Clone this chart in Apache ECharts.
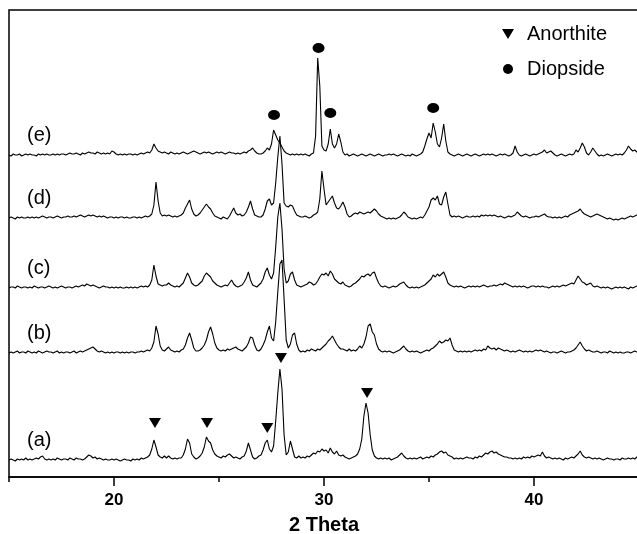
<!DOCTYPE html>
<html><head><meta charset="utf-8">
<script src="https://cdn.jsdelivr.net/npm/echarts@6/dist/echarts.min.js"></script>
<style>html,body{margin:0;padding:0;background:#fff}#c{width:637px;height:534px}</style>
</head><body><div id="c"></div>
<script>
// 2-theta scan grid
const thetaStart = 15, thetaStep = 0.1;
const xTickValues = [20, 30, 40];
const xMinorTickValues = [15, 25, 35, 45];
const traceNames = ['(a)', '(b)', '(c)', '(d)', '(e)'];
const traceOffsets = [16, 123, 188, 258, 321];

// intensities (a.u.) above each trace's own baseline, 15.0 .. 45.0 step 0.1
const traceA = [
1,2,1,0,2,1,2,1,3,1,
2,1,2,3,2,4,5,2,1,2,
1,2,1,3,2,1,2,2,1,3,
2,1,3,2,2,1,2,4,6,5,
3,4,2,3,2,1,2,1,1,2,
1,2,1,0,1,2,1,1,0,2,
1,2,1,3,2,3,4,6,12,21,
14,6,4,3,5,3,5,3,2,3,
2,3,3,6,12,22,18,7,4,2,
3,5,8,14,24,20,18,11,7,5,
4,3,5,4,6,7,5,3,4,3,
2,4,5,10,18,11,4,2,3,5,
6,11,18,21,12,9,15,40,68,92,
72,26,6,9,20,12,4,3,5,3,
4,3,5,4,6,8,7,10,9,12,
10,11,8,13,9,7,10,6,5,6,
4,3,2,3,4,5,7,12,22,45,
58,48,26,11,5,3,2,3,2,3,
2,3,1,2,3,4,6,8,5,3,
2,3,2,3,2,3,4,2,3,4,
3,5,4,6,7,9,10,8,9,6,
5,4,2,3,2,3,2,3,4,3,
3,2,4,3,5,4,6,8,7,9,
10,8,9,7,6,5,4,4,3,3,
2,3,2,3,2,4,3,4,3,5,
4,5,6,5,9,5,3,4,3,2,
3,2,3,2,1,3,2,3,4,3,
5,7,10,6,4,3,4,3,2,3,
2,3,2,1,2,3,2,2,1,2,
2,1,3,2,2,3,2,3,2,4,
3];
const traceB = [
1,2,1,2,3,1,2,2,1,3,
2,1,2,1,3,2,1,2,3,2,
2,1,2,3,1,2,1,2,2,1,
2,3,1,2,3,2,3,4,5,6,
7,5,3,2,3,2,1,2,1,2,
1,2,2,1,2,1,2,1,2,2,
1,2,2,3,2,3,4,3,6,12,
28,20,8,4,3,5,7,4,3,2,
3,2,4,5,9,16,21,14,6,3,
3,4,6,9,14,22,27,20,11,6,
4,3,4,3,5,4,5,6,7,5,
4,3,5,7,11,17,16,9,4,3,
5,9,14,22,28,16,13,32,62,90,
94,55,14,6,10,19,21,10,4,2,
3,2,4,3,5,4,3,5,4,6,
8,10,13,15,18,14,10,7,5,5,
4,3,5,3,4,3,5,8,6,10,
17,28,30,22,19,10,5,3,2,3,
2,3,2,1,2,3,4,6,8,5,
3,2,3,2,3,2,1,2,3,4,
3,5,6,8,10,13,11,12,14,13,
16,9,4,3,2,3,2,3,2,3,
2,3,4,3,4,3,5,4,8,6,
5,6,4,6,5,4,3,4,3,2,
3,2,3,4,3,2,3,2,3,2,
3,4,3,4,3,2,3,2,1,2,
2,1,2,3,2,1,2,2,3,4,
6,9,12,8,5,3,4,3,2,2,
3,2,1,2,2,1,3,2,1,2,
1,2,1,1,2,2,1,2,3,2,
2];
const traceC = [
1,2,2,1,3,2,1,2,2,1,
2,1,3,2,1,2,2,1,2,3,
2,1,2,1,2,3,2,1,2,2,
1,2,3,2,3,4,3,5,4,3,
4,3,2,1,2,3,2,2,1,2,
1,2,1,2,1,1,2,1,2,1,
2,1,2,3,2,3,2,4,9,24,
13,5,4,3,4,4,6,4,3,2,
3,2,4,6,11,16,12,6,4,3,
4,6,8,13,16,14,12,8,6,4,
3,2,3,4,3,6,9,5,3,2,
3,4,7,11,17,9,4,3,2,4,
6,10,17,21,14,10,16,42,72,86,
60,20,6,8,15,17,9,4,3,2,
3,4,5,7,6,4,5,8,12,15,
14,16,13,18,15,10,8,6,5,7,
4,3,2,3,5,6,8,10,13,12,
14,15,13,16,17,11,6,3,2,3,
2,1,2,3,2,3,5,6,7,4,
2,1,2,1,2,1,2,3,4,6,
8,10,14,12,15,13,15,17,12,6,
4,3,2,3,2,3,2,1,2,3,
2,3,2,3,2,3,4,3,2,3,
3,4,3,4,5,4,6,5,4,3,
2,3,2,3,2,3,2,1,2,3,
3,2,3,2,3,2,2,1,2,3,
2,3,2,3,4,3,4,5,6,5,
9,13,10,7,6,4,5,6,3,2,
3,2,1,2,1,2,1,0,1,2,
1,2,1,2,1,0,2,1,2,3,
3];
const traceD = [
1,2,1,0,2,1,2,1,1,2,
1,2,1,2,1,2,3,2,1,2,
2,1,2,3,2,1,2,2,3,2,
2,3,2,3,4,3,2,3,4,3,
4,3,2,3,2,3,2,1,2,2,
1,2,1,2,2,1,2,1,1,2,
2,1,2,1,2,3,2,3,5,14,
37,18,6,3,4,3,4,3,2,3,
2,3,4,6,11,15,19,10,5,3,
4,6,9,12,15,12,10,6,3,2,
1,0,2,1,0,3,7,11,6,4,
5,3,4,7,12,18,10,4,3,2,
2,4,10,18,20,14,16,36,62,83,
55,16,13,12,14,13,8,4,3,2,
2,3,2,1,2,4,5,7,20,48,
30,14,17,20,23,16,11,10,13,17,
12,5,2,3,5,6,5,7,6,5,
6,7,6,8,10,8,5,3,2,1,
0,1,0,1,0,1,2,4,7,5,
2,1,0,1,0,1,2,1,4,8,
12,19,21,19,23,15,14,22,27,15,
4,2,3,2,3,2,1,2,3,2,
2,3,2,3,2,4,3,4,3,4,
3,4,3,2,3,2,1,2,3,2,
3,4,7,5,3,2,3,2,1,2,
2,3,2,3,4,5,3,2,2,1,
2,1,2,1,2,3,2,4,5,6,
7,8,10,7,5,4,3,2,3,4,
5,4,3,2,1,0,1,0,-1,0,
-1,0,1,0,1,2,3,2,3,4,
4];
const traceE = [
1,0,2,1,1,2,0,1,2,1,
2,1,1,0,2,1,2,1,2,1,
1,2,1,2,1,2,2,1,2,3,
2,2,3,2,1,3,2,3,4,3,
3,2,4,3,2,3,2,3,2,5,
4,2,1,2,1,2,1,2,2,1,
2,1,2,3,2,3,4,3,6,12,
8,5,4,3,4,3,2,4,3,2,
3,2,3,4,3,2,3,4,5,4,
3,2,3,4,3,4,3,2,3,4,
3,4,3,2,3,4,3,3,2,3,
2,3,4,3,5,6,8,5,3,2,
2,3,5,8,6,12,26,21,16,13,
9,5,3,2,1,2,1,2,1,2,
1,2,1,0,2,3,20,98,70,10,
6,5,12,27,12,8,12,22,14,4,
1,2,0,1,2,1,0,1,2,1,
0,1,2,1,0,1,2,1,0,1,
1,2,1,2,1,0,1,2,1,0,
1,0,2,1,0,1,2,4,10,17,
23,18,33,24,12,9,18,32,15,4,
2,1,0,1,2,1,0,1,2,1,
0,1,2,1,0,1,2,1,2,1,
2,1,0,1,2,1,2,1,0,1,
3,10,4,1,0,1,2,1,0,1,
2,1,2,3,4,6,3,4,5,3,
1,0,1,2,1,0,1,2,1,2,
6,4,8,13,9,3,1,4,8,5,
2,0,1,0,1,2,1,0,1,2,
1,2,1,3,6,10,7,5,6,4,
3];
const traces = [traceA, traceB, traceC, traceD, traceE];

// phase markers: [2theta, height on stacked scale]
const anorthiteMarks = [[21.95, 54], [24.43, 54], [27.3, 49], [27.95, 119], [32.05, 84]];
const diopsideMarks = [[27.62, 362], [29.74, 429], [30.3, 364], [35.2, 369]];

const FONT = 'Liberation Sans, Arial, Helvetica, sans-serif';
const triPath = 'path://M0,0L12,0L6,10Z';

const lineSeries = traces.map((t, k) => ({
  type: 'line', name: traceNames[k], xAxisIndex: 0, yAxisIndex: 0,
  data: t.map((v, i) => [+(thetaStart + i * thetaStep).toFixed(1), v + traceOffsets[k]]),
  showSymbol: false, symbol: 'none', silent: true,
  lineStyle: { color: '#000', width: 1.1 }, itemStyle: { color: '#000' }
}));

const chart = echarts.init(document.getElementById('c'), null, { renderer: 'canvas' });
chart.setOption({
  animation: false,
  backgroundColor: '#fff',
  grid: { left: 9, top: 10, width: 630, height: 467, outerBoundsMode: 'none', containLabel: false,
    show: true, borderColor: '#000', borderWidth: 1.5, backgroundColor: 'transparent' },
  legend: {
    orient: 'vertical', left: 497, top: 19, itemWidth: 12, itemHeight: 10, itemGap: 15,
    data: [{ name: 'Anorthite', icon: triPath }, { name: 'Diopside', icon: 'circle' }],
    textStyle: { fontSize: 20, color: '#000', fontFamily: FONT, padding: [0, 0, 0, 8] },
    itemStyle: { opacity: 1 },
    selectedMode: false
  },
  xAxis: [{
    type: 'value', min: 15, max: 45, position: 'bottom',
    axisLine: { show: true, lineStyle: { color: '#000', width: 1.5 } },
    axisTick: { show: true, customValues: xTickValues, length: 9, lineStyle: { color: '#000', width: 1.5 } },
    axisLabel: { customValues: xTickValues, fontSize: 17, fontWeight: 'bold', color: '#000', fontFamily: FONT, margin: 15 },
    splitLine: { show: false },
    name: '2 Theta', nameLocation: 'middle', nameGap: 38,
    nameTextStyle: { fontSize: 20, fontWeight: 'bold', color: '#000', fontFamily: FONT }
  }, {
    type: 'value', min: 15, max: 45, position: 'bottom',
    axisLine: { show: false },
    axisTick: { show: true, customValues: xMinorTickValues, length: 5, lineStyle: { color: '#000', width: 1.5 } },
    axisLabel: { show: false, customValues: xMinorTickValues },
    splitLine: { show: false }
  }],
  yAxis: { type: 'value', min: 0, max: 467, show: false, splitLine: { show: false } },
  series: [
    ...lineSeries,
    { type: 'scatter', name: 'Anorthite', data: anorthiteMarks, symbol: triPath, symbolSize: [12, 10],
      itemStyle: { color: '#000', opacity: 1 }, silent: true, z: 5 },
    { type: 'scatter', name: 'Diopside', data: diopsideMarks, symbol: 'circle', symbolSize: [12, 10],
      itemStyle: { color: '#000', opacity: 1 }, silent: true, z: 5 },
    { type: 'scatter', name: 'traceLabels', symbolSize: 0, silent: true,
      itemStyle: { opacity: 1 },
      data: traceNames.map((n, k) => [15.86, traceOffsets[k] + 21, n]),
      label: { show: true, position: 'right', distance: 0, formatter: p => p.value[2],
        fontSize: 20, color: '#000', opacity: 1, fontFamily: FONT } }
  ]
});
</script></body></html>
